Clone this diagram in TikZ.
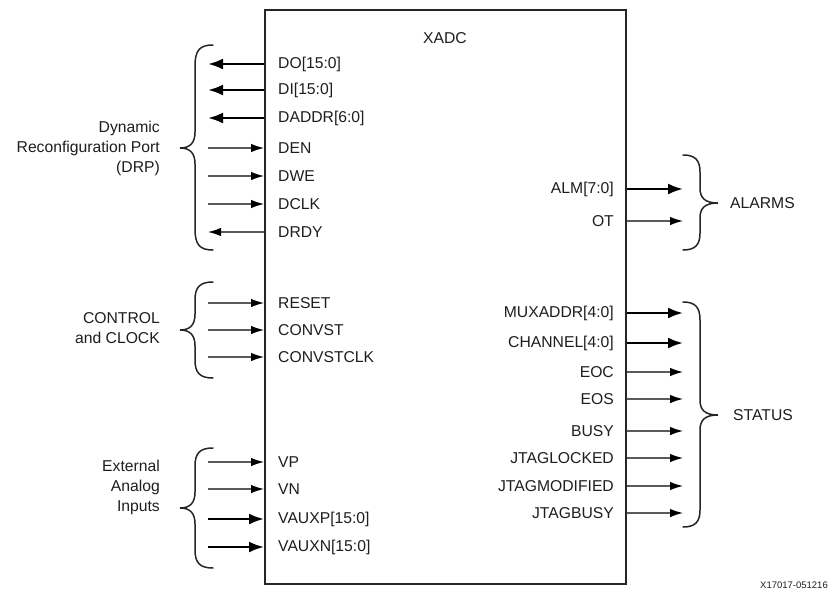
\documentclass[tikz,border=0pt]{standalone}
\usepackage{fontspec}
\setmainfont{Liberation Sans}
\usetikzlibrary{arrows.meta}
\definecolor{txt}{HTML}{1E1E1E}
\definecolor{thin}{HTML}{5A5A5A}
\begin{document}
\begin{tikzpicture}[x=1pt,y=-1pt,
  lbl/.style={font=\fontsize{15.7}{20}\selectfont, text=txt, inner sep=0pt},
  grp/.style={lbl, align=right, anchor=east},
  grpr/.style={lbl, anchor=west},
  inL/.style={lbl, anchor=west},
  inR/.style={lbl, anchor=east},
  bus/.style={line width=2.4pt, draw=black, -{Latex[length=15pt,width=11pt,color=black]}},
  sig/.style={line width=1.3pt, draw=thin, -{Latex[length=13pt,width=8.5pt,color=black]}},
  brace/.style={line width=1.5pt, draw=black!85, line cap=round}
]
\useasboundingbox (0,0) rectangle (832,597);
\fill[white] (0,0) rectangle (832,597);

% main block
\node[draw=black!85, line width=2pt, minimum width=361pt, minimum height=574pt, inner sep=0pt] (xadc) at (445.5,297) {};
\node[lbl] (title) at (445,38) {XADC};

% left port labels
\node[inL] (do)    at (278,64)  {DO[15:0]};
\node[inL] (di)    at (278,90)  {DI[15:0]};
\node[inL] (daddr) at (278,118) {DADDR[6:0]};
\node[inL] (den)   at (278,148) {DEN};
\node[inL] (dwe)   at (278,176) {DWE};
\node[inL] (dclk)  at (278,204) {DCLK};
\node[inL] (drdy)  at (278,232) {DRDY};
\node[inL] (reset) at (278,303) {RESET};
\node[inL] (convst) at (278,330) {CONVST};
\node[inL] (convstclk) at (278,357) {CONVSTCLK};
\node[inL] (vp)    at (278,462) {VP};
\node[inL] (vn)    at (278,489) {VN};
\node[inL] (vauxp) at (278,519) {VAUXP[15:0]};
\node[inL] (vauxn) at (278,547) {VAUXN[15:0]};

% right port labels
\node[inR] (alm) at (614,189) {ALM[7:0]};
\node[inR] (ot)  at (614,221) {OT};
\node[inR] (mux) at (614,313) {MUXADDR[4:0]};
\node[inR] (chan) at (614,343) {CHANNEL[4:0]};
\node[inR] (eoc) at (614,372) {EOC};
\node[inR] (eos) at (614,399) {EOS};
\node[inR] (busy) at (614,431) {BUSY};
\node[inR] (jlock) at (614,458) {JTAGLOCKED};
\node[inR] (jmod) at (614,486) {JTAGMODIFIED};
\node[inR] (jbusy) at (614,513) {JTAGBUSY};

% outer ends
\foreach \n/\y in {do/64,di/90,daddr/118,den/148,dwe/176,dclk/204,drdy/232,reset/303,convst/330,convstclk/357,vp/462,vn/489,vauxp/519,vauxn/547}
  \coordinate (\n-o) at (208,\y);
\foreach \n/\y in {alm/189,ot/221,mux/313,chan/343,eoc/372,eos/399,busy/431,jlock/458,jmod/486,jbusy/513}
  \coordinate (\n-o) at (683,\y);

% left connectors
\draw[bus] (xadc.west |- do-o) -- (do-o);
\draw[bus] (xadc.west |- di-o) -- (di-o);
\draw[bus] (xadc.west |- daddr-o) -- (daddr-o);
\draw[sig] (den-o) -- (xadc.west |- den-o);
\draw[sig] (dwe-o) -- (xadc.west |- dwe-o);
\draw[sig] (dclk-o) -- (xadc.west |- dclk-o);
\draw[sig] (xadc.west |- drdy-o) -- (drdy-o);
\draw[sig] (reset-o) -- (xadc.west |- reset-o);
\draw[sig] (convst-o) -- (xadc.west |- convst-o);
\draw[sig] (convstclk-o) -- (xadc.west |- convstclk-o);
\draw[sig] (vp-o) -- (xadc.west |- vp-o);
\draw[sig] (vn-o) -- (xadc.west |- vn-o);
\draw[bus] (vauxp-o) -- (xadc.west |- vauxp-o);
\draw[bus] (vauxn-o) -- (xadc.west |- vauxn-o);

% right connectors
\draw[bus] (xadc.east |- alm-o) -- (alm-o);
\draw[sig] (xadc.east |- ot-o) -- (ot-o);
\draw[bus] (xadc.east |- mux-o) -- (mux-o);
\draw[bus] (xadc.east |- chan-o) -- (chan-o);
\foreach \n in {eoc,eos,busy,jlock,jmod,jbusy}
  \draw[sig] (xadc.east |- \n-o) -- (\n-o);

% left braces
\draw[brace] (213,45) .. controls (200,45) and (195,50) .. (195,66) -- (195,132)
  .. controls (195,143) and (190,148) .. (180,148)
  .. controls (190,148) and (195,153) .. (195,164) -- (195,229)
  .. controls (195,245) and (200,250) .. (213,250);
\draw[brace] (213,282) .. controls (200,282) and (195,287) .. (195,300) -- (195,314)
  .. controls (195,325) and (190,330) .. (180,330)
  .. controls (190,330) and (195,335) .. (195,346) -- (195,360)
  .. controls (195,373) and (200,378) .. (213,378);
\draw[brace] (213,448) .. controls (200,448) and (195,453) .. (195,466) -- (195,492)
  .. controls (195,503) and (190,508) .. (180,508)
  .. controls (190,508) and (195,513) .. (195,524) -- (195,550)
  .. controls (195,563) and (200,568) .. (213,568);

% right braces
\draw[brace] (683,155) .. controls (695,155) and (700,160) .. (700,172) -- (700,188)
  .. controls (700,198) and (705,203) .. (718,203)
  .. controls (705,203) and (700,208) .. (700,218) -- (700,233)
  .. controls (700,245) and (695,250) .. (683,250);
\draw[brace] (683,302) .. controls (695,302) and (700,307) .. (700,320) -- (700,400)
  .. controls (700,410) and (705,415) .. (718,415)
  .. controls (705,415) and (700,420) .. (700,430) -- (700,510)
  .. controls (700,522) and (695,527) .. (683,527);

% group labels
\node[grp] (drp) at (160,148) {Dynamic\\Reconfiguration Port\\(DRP)};
\node[grp] (ctl) at (160,328) {CONTROL\\and CLOCK};
\node[grp] (ext) at (160,487) {External\\Analog\\Inputs};
\node[grpr] (alarms) at (730,203) {ALARMS};
\node[grpr] (status) at (733,415) {STATUS};

% footer
\node[font=\fontsize{9.5}{11}\selectfont, text=txt, inner sep=0pt] (fig) at (794,585) {X17017-051216};
\end{tikzpicture}
\end{document}
